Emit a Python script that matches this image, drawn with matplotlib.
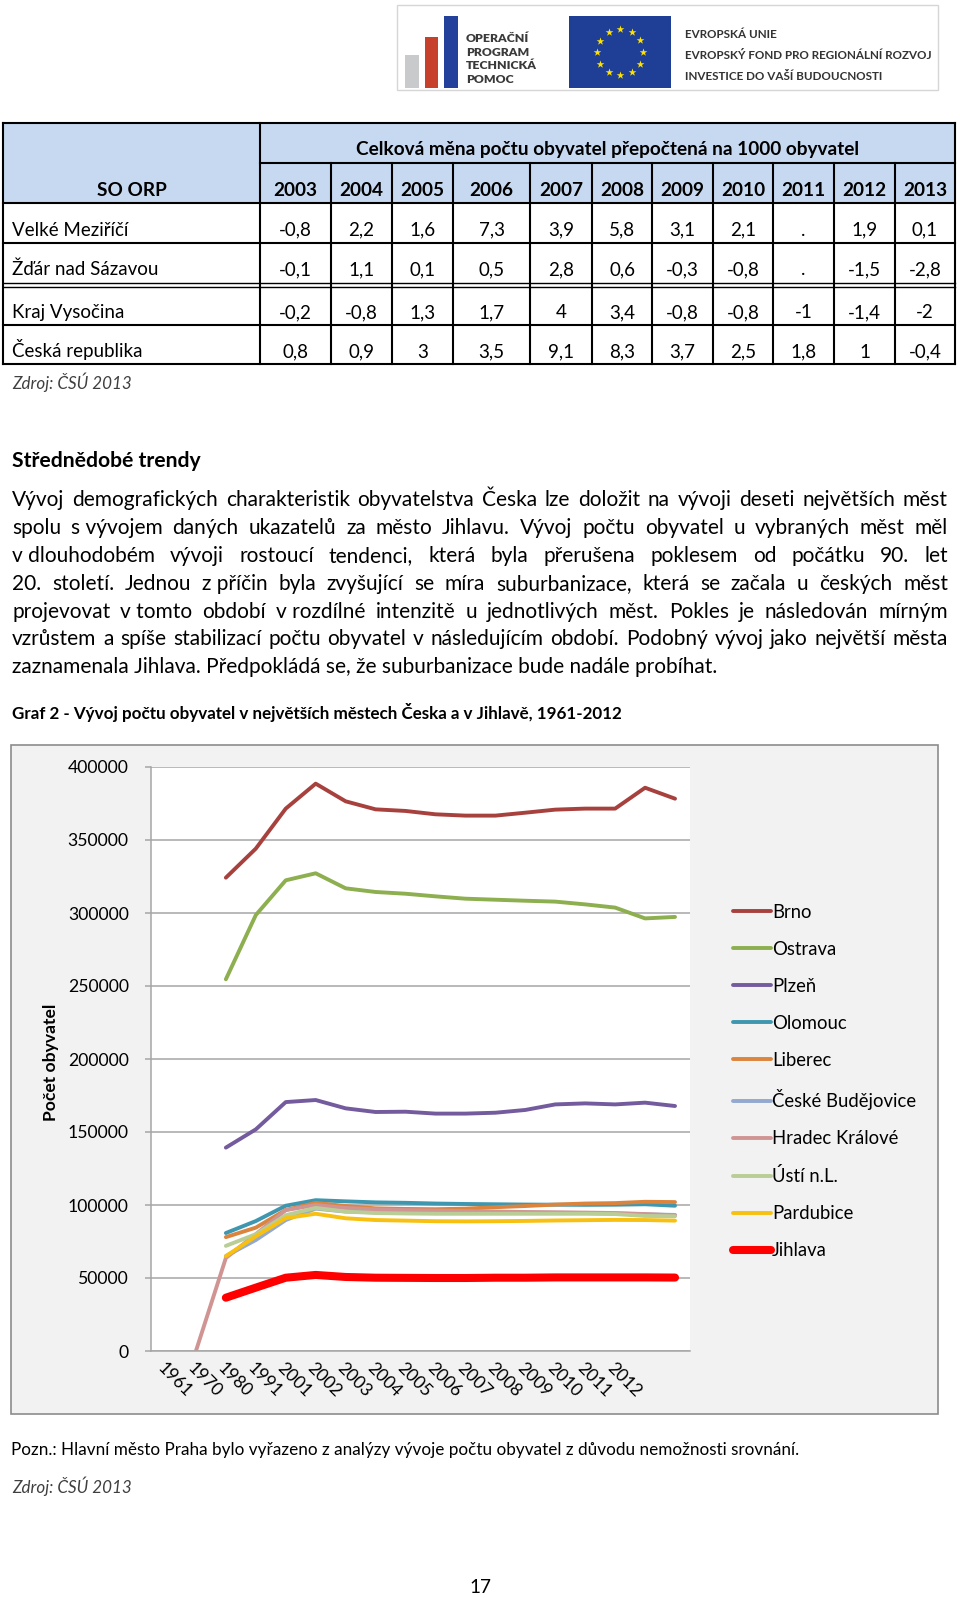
import matplotlib
matplotlib.use("Agg")
import matplotlib.pyplot as plt
from matplotlib.patches import Rectangle
import numpy as np

plt.rcParams['font.family'] = ['Lato', 'DejaVu Sans']

nan = np.nan

# table: total change of population per 1000 inhabitants
tab_years = [2003, 2004, 2005, 2006, 2007, 2008, 2009, 2010, 2011, 2012, 2013]
tab_rows = ["Velké Meziříčí", "Žďár nad Sázavou", "Kraj Vysočina", "Česká republika"]
velke_mezirici = [-0.8, 2.2, 1.6, 7.3, 3.9, 5.8, 3.1, 2.1, None, 1.9, 0.1]
zdar = [-0.1, 1.1, 0.1, 0.5, 2.8, 0.6, -0.3, -0.8, None, -1.5, -2.8]
kraj = [-0.2, -0.8, 1.3, 1.7, 4, 3.4, -0.8, -0.8, -1, -1.4, -2]
cr = [0.8, 0.9, 3, 3.5, 9.1, 8.3, 3.7, 2.5, 1.8, 1, -0.4]

# chart: the original sheet has the series shifted two categories to the right
year_labels = ["1961", "1970", "1980", "1991", "2001", "2002", "2003", "2004",
               "2005", "2006", "2007", "2008", "2009", "2010", "2011", "2012", "", ""]
brno = [nan, nan, 324200, 344100, 371500, 388600, 376500, 371000, 369900, 367600,
        366700, 366700, 368700, 370800, 371500, 371500, 385800, 378300]
ostrava = [nan, nan, 254600, 298600, 322400, 327200, 316900, 314400, 313200, 311400,
           309800, 309100, 308400, 307800, 305900, 303700, 296300, 297300]
plzen = [nan, nan, 139300, 151800, 170500, 171900, 166200, 163700, 163900, 162600,
         162600, 163200, 165100, 168900, 169600, 168900, 170100, 167800]
olomouc = [nan, nan, 80800, 89000, 99500, 103300, 102500, 101800, 101500, 101000,
           100700, 100500, 100300, 100200, 100100, 100200, 100500, 99500]
liberec = [nan, nan, 78000, 84500, 96600, 101400, 99300, 97700, 97300, 97100,
           97500, 98500, 99300, 100300, 101000, 101300, 102200, 102000]
budejovice = [nan, nan, 65000, 76000, 89700, 97500, 95500, 95000, 94800, 94700,
              94700, 94800, 94800, 94700, 94500, 94200, 93600, 93200]
hradec = [nan, 0, 63700, 80000, 96500, 100000, 98000, 97000, 96500, 96200,
          95800, 95500, 95200, 95000, 94800, 94500, 93800, 92900]
usti = [nan, nan, 72000, 80000, 93000, 98000, 95500, 94500, 94200, 94000,
        94000, 94000, 94000, 94000, 94000, 93800, 92500, 92300]
pardubice = [nan, nan, 65000, 78500, 91000, 94000, 90900, 89700, 89300, 88900,
             88800, 88900, 89100, 89400, 89600, 89800, 89700, 89300]
jihlava = [nan, nan, 36500, 43400, 50200, 52100, 50700, 50200, 50100, 50000,
           50000, 50200, 50200, 50400, 50400, 50400, 50400, 50300]

series = [
    ("Brno", brno, "#A7413E"),
    ("Ostrava", ostrava, "#8DAF4F"),
    ("Plzeň", plzen, "#735B9E"),
    ("Olomouc", olomouc, "#3E97AF"),
    ("Liberec", liberec, "#DB843D"),
    ("České Budějovice", budejovice, "#93A9CF"),
    ("Hradec Králové", hradec, "#D09493"),
    ("Ústí n.L.", usti, "#B9CD96"),
    ("Pardubice", pardubice, "#F8C010"),
    ("Jihlava", jihlava, "#FF0000"),
]

paragraph = [
    "Vývoj demografických charakteristik obyvatelstva Česka lze doložit na vývoji deseti největších měst",
    "spolu s\u00a0vývojem daných ukazatelů za město Jihlavu. Vývoj počtu obyvatel u vybraných měst měl",
    "v\u00a0dlouhodobém vývoji rostoucí tendenci, která byla přerušena poklesem od počátku 90. let",
    "20. století. Jednou z\u00a0příčin byla zvyšující se míra suburbanizace, která se začala u českých měst",
    "projevovat v\u00a0tomto období v\u00a0rozdílné intenzitě u jednotlivých měst. Pokles je následován mírným",
    "vzrůstem a spíše stabilizací počtu obyvatel v následujícím období. Podobný vývoj jako největší města",
    "zaznamenala Jihlava. Předpokládá se, že suburbanizace bude nadále probíhat.",
]

W, H = 960, 1598
fig = plt.figure(figsize=(W / 100, H / 100), dpi=100)
renderer = fig.canvas.get_renderer()

page = fig.add_axes([0, 0, 1, 1])
page.set_xlim(0, W)
page.set_ylim(H, 0)
page.axis('off')


def fit_size(s, width, **kw):
    t = page.text(0, 0, s, fontsize=10, **kw)
    w = t.get_window_extent(renderer).width
    t.remove()
    return 10 * width / w


def hline(y, x0, x1, lw=1.5, color='black'):
    page.plot([x0, x1], [y, y], color=color, lw=lw, solid_capstyle='projecting')


def vline(x, y0, y1, lw=1.5, color='black'):
    page.plot([x, x], [y0, y1], color=color, lw=lw, solid_capstyle='projecting')


# ---- banner ----
page.add_patch(Rectangle((397, 5), 541, 85, fc='white', ec='#D6D6D6', lw=1))
page.add_patch(Rectangle((405, 55), 14, 33, fc='#C9CACB', ec='none'))
page.add_patch(Rectangle((425, 37), 13, 51, fc='#C6402B', ec='none'))
page.add_patch(Rectangle((444, 16), 14, 72, fc='#23409A', ec='none'))
page.add_patch(Rectangle((569, 16), 102, 72, fc='#1F3F97', ec='none'))
ang = np.linspace(0, 2 * np.pi, 13)[:-1]
page.scatter(620 + 23 * np.cos(ang), 52 + 23 * np.sin(ang), marker='*', s=34,
             color='#FFE100', lw=0, zorder=3)
op_size = fit_size("TECHNICKÁ", 71, weight='heavy')
for s, y in zip(["OPERAČNÍ", "PROGRAM", "TECHNICKÁ", "POMOC"], [42, 56, 69, 83]):
    page.text(466, y, s, fontsize=op_size, weight='heavy', color='#3A3A3A', va='baseline')
eu_size = fit_size("EVROPSKÝ FOND PRO REGIONÁLNÍ ROZVOJ", 247, weight='bold')
for s, y in zip(["EVROPSKÁ UNIE", "EVROPSKÝ FOND PRO REGIONÁLNÍ ROZVOJ",
                 "INVESTICE DO VAŠÍ BUDOUCNOSTI"], [38, 59, 80]):
    page.text(685, y, s, fontsize=eu_size, weight='bold', color='#333333', va='baseline')

# ---- table ----
col_x = [3, 260, 331, 392, 453, 530, 592, 652, 713, 773, 834, 895, 955]
row_y = [123, 163, 203, 243, 283, 325, 364]
page.add_patch(Rectangle((col_x[0], row_y[0]), col_x[-1] - col_x[0], row_y[2] - row_y[0],
                         fc='#C6D9F1', ec='none'))
hline(row_y[0], col_x[0], col_x[-1])
hline(row_y[1], col_x[1], col_x[-1])
for y in [row_y[2], row_y[3], row_y[5], row_y[6]]:
    hline(y, col_x[0], col_x[-1])
hline(282.5, col_x[0], col_x[-1], lw=1.0)
hline(286.5, col_x[0], col_x[-1], lw=1.0)
for x in [col_x[0], col_x[1], col_x[-1]]:
    vline(x, row_y[0], row_y[-1])
for x in col_x[2:-1]:
    vline(x, row_y[1], row_y[-1])

head_size = fit_size("Celková měna počtu obyvatel přepočtená na 1000 obyvatel", 506, weight='bold')
cell_size = fit_size("Česká republika", 131)
page.text((col_x[1] + col_x[-1]) / 2, 155.5, "Celková měna počtu obyvatel přepočtená na 1000 obyvatel",
          fontsize=head_size, weight='bold', ha='center', va='baseline')
page.text((col_x[0] + col_x[1]) / 2, 196.5, "SO ORP", fontsize=head_size, weight='bold',
          ha='center', va='baseline')
for i, yr in enumerate(tab_years):
    page.text((col_x[i + 1] + col_x[i + 2]) / 2, 196.5, str(yr), fontsize=head_size,
              weight='bold', ha='center', va='baseline')
for name, vals, y in zip(tab_rows, [velke_mezirici, zdar, kraj, cr], [235.5, 275, 318, 357.5]):
    page.text(12, y, name, fontsize=cell_size, va='baseline')
    for i, v in enumerate(vals):
        s = "." if v is None else ("%g" % v).replace(".", ",")
        page.text((col_x[i + 1] + col_x[i + 2]) / 2, y, s, fontsize=cell_size,
                  ha='center', va='baseline')

src_size = fit_size("Zdroj: ČSÚ 2013", 119, style='italic')
page.text(12, 388.5, "Zdroj: ČSÚ 2013", fontsize=src_size, style='italic', color='#3F3F3F',
          va='baseline')

# ---- text ----
page.text(12, 467, "Střednědobé trendy", fontsize=fit_size("Střednědobé trendy", 190, weight='bold'),
          weight='bold', va='baseline')
body_size = min(fit_size(paragraph[-1], 747),
                fit_size(paragraph[5].replace("\u00a0", " "), 915))
for k, line in enumerate(paragraph):
    y = 506.5 + 27.75 * k
    words = [w.replace("\u00a0", " ") for w in line.split(" ")]
    if k == len(paragraph) - 1:
        page.text(12, y, " ".join(words), fontsize=body_size, va='baseline')
        continue
    texts = [page.text(0, y, w, fontsize=body_size, va='baseline') for w in words]
    widths = [t.get_window_extent(renderer).width for t in texts]
    gap = (948 - 12 - sum(widths)) / (len(words) - 1)
    x = 12
    for t, w in zip(texts, widths):
        t.set_x(x)
        x += w + gap

cap = "Graf 2 - Vývoj počtu obyvatel v největších městech Česka a v Jihlavě, 1961-2012"
page.text(12, 718.5, cap, fontsize=fit_size(cap, 611, weight='bold'), weight='bold', va='baseline')

# ---- chart ----
page.add_patch(Rectangle((11, 745), 927, 669, fc='#F2F2F2', ec='#8C8C8C', lw=1.2))
tick_size = fit_size("400000", 61)
page.text(51, 1062, "Počet obyvatel", fontsize=fit_size("Počet obyvatel", 117, weight='bold'),
          weight='bold', rotation=90, ha='center', va='center')

ax = fig.add_axes([151 / W, 1 - 1351 / H, 539 / W, 584 / H])
ax.set_facecolor('white')
x = np.arange(len(year_labels))
for name, vals, col in series:
    lw = 5.8 if name == "Jihlava" else 2.8
    ax.plot(x, vals, color=col, lw=lw, label=name, solid_joinstyle='round',
            solid_capstyle='round')

ax.set_xlim(-0.5, len(year_labels) - 0.5)
ax.set_ylim(0, 400000)
yt = np.arange(0, 400001, 50000)
ax.set_yticks(yt, [str(v) for v in yt])
ax.set_xticks(x, year_labels)
ax.grid(axis='y', color='#A6A6A6', lw=1.1)
ax.set_axisbelow(True)
for sp in ['top', 'right']:
    ax.spines[sp].set_visible(False)
for sp in ['left', 'bottom']:
    ax.spines[sp].set_color('#A6A6A6')
    ax.spines[sp].set_linewidth(1.1)
ax.tick_params(axis='y', length=4, width=1.1, color='#A6A6A6', pad=12, labelsize=tick_size)
ax.tick_params(axis='x', length=0, pad=6, labelsize=tick_size)
for lbl in ax.get_xticklabels():
    lbl.set_rotation(-45)
    lbl.set_ha('left')
    lbl.set_va('top')
    lbl.set_rotation_mode('anchor')

leg_size = fit_size("České Budějovice", 145)
fs_px = leg_size * 100 / 72
probe = page.text(0, 0, "Brno", fontsize=leg_size)
row_h = probe.get_window_extent(renderer).height
probe.remove()
ax.legend(loc='upper left', bbox_to_anchor=(733 / W, 1 - (912 - row_h / 2) / H),
          bbox_transform=fig.transFigure, frameon=False, fontsize=leg_size,
          handlelength=38 / fs_px, handletextpad=1 / fs_px,
          labelspacing=(37.1 - row_h) / fs_px, borderpad=0, borderaxespad=0)

# ---- footnotes ----
pozn = "Pozn.: Hlavní město Praha bylo vyřazeno z analýzy vývoje počtu obyvatel z důvodu nemožnosti srovnání."
page.text(11, 1454.5, pozn, fontsize=fit_size(pozn, 787), va='baseline')
page.text(12, 1493.5, "Zdroj: ČSÚ 2013", fontsize=src_size, style='italic', color='#3F3F3F',
          va='baseline')
page.text(480, 1593, "17", fontsize=fit_size("17", 22), ha='center', va='baseline')

fig.savefig("out.png", dpi=100)
